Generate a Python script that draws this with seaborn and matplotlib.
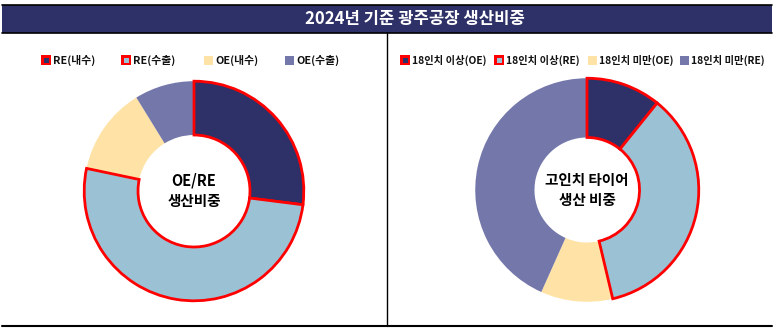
import matplotlib
matplotlib.use("Agg")
import matplotlib.pyplot as plt
import seaborn as sns
from matplotlib.patches import Rectangle
from matplotlib.lines import Line2D

sns.set_theme(style="white")
plt.rcParams['font.family'] = ['Noto Sans CJK KR', 'DejaVu Sans']

# ---- data ----
title = "2024년 기준 광주공장 생산비중"
left_labels = ["RE(내수)", "RE(수출)", "OE(내수)", "OE(수출)"]
left_values = [27.0, 51.3, 12.9, 8.8]
left_red = [True, True, False, False]
left_center = "OE/RE\n생산비중"

right_labels = ["18인치 이상(OE)", "18인치 이상(RE)", "18인치 미만(OE)", "18인치 미만(RE)"]
right_values = [10.8, 35.5, 10.4, 43.3]
right_red = [True, True, False, False]
right_center = "고인치 타이어\n생산 비중"

colors = ["#2E3068", "#9BC2D4", "#FFE3A6", "#7477AA"]
RED = "#FF0000"

W, H = 774, 332
fig = plt.figure(figsize=(W / 100, H / 100), dpi=100)
fig.patch.set_facecolor("white")


def fx(x):
    return x / W


def fy(y):
    return 1 - y / H


# title bar
fig.add_artist(Rectangle((fx(2), fy(33)), fx(770), (33 - 5) / H, transform=fig.transFigure,
                         facecolor="#2E3068", edgecolor="none"))
fig.add_artist(Line2D([fx(2), fx(772)], [fy(5), fy(5)], transform=fig.transFigure, color="black", lw=1.2))
fig.add_artist(Line2D([fx(2), fx(772)], [fy(33), fy(33)], transform=fig.transFigure, color="black", lw=1.2))
fig.text(fx(415), fy(19), title, color="white", fontsize=12, fontweight="bold",
         ha="center", va="center")
# bottom line and divider
fig.add_artist(Line2D([fx(2), fx(772)], [fy(326), fy(326)], transform=fig.transFigure, color="black", lw=1.5))
fig.add_artist(Line2D([fx(387), fx(387)], [fy(33), fy(326)], transform=fig.transFigure, color="black", lw=1.0))


def donut(box, values, red, width, center_text):
    x0, y0, x1, y1 = box
    ax = fig.add_axes([fx(x0), fy(y1), (x1 - x0) / W, (y1 - y0) / H])
    wedges, _ = ax.pie(values, colors=colors, startangle=90, counterclock=False,
                       radius=1.0, wedgeprops=dict(width=width, edgecolor="none", linewidth=0))
    for w, r in zip(wedges, red):
        if r:
            w.set_edgecolor(RED)
            w.set_linewidth(2.0)
            w.set_zorder(5)
    ax.set_xlim(-1.02, 1.02)
    ax.set_ylim(-1.02, 1.02)
    ax.set_aspect("equal")
    ax.axis("off")
    ax.text(0, 0, center_text, ha="center", va="center", fontsize=10.5, fontweight="bold",
            color="black", linespacing=1.35, zorder=10)
    return ax


donut((82, 79, 306, 303), left_values, left_red, 0.49, left_center)
donut((473, 76, 701, 304), right_values, right_red, 0.53, right_center)


def legend(labels, red, xs, y, size):
    for lab, r, c, x in zip(labels, red, colors, xs):
        if r:
            fig.add_artist(Rectangle((fx(x - 5), fy(y + 5)), 10 / W, 10 / H, transform=fig.transFigure,
                                     facecolor=RED, edgecolor="none"))
            fig.add_artist(Rectangle((fx(x - 2.5), fy(y + 2.5)), 5 / W, 5 / H, transform=fig.transFigure,
                                     facecolor=c, edgecolor="none"))
        else:
            fig.add_artist(Rectangle((fx(x - 4.5), fy(y + 4.5)), 9 / W, 9 / H, transform=fig.transFigure,
                                     facecolor=c, edgecolor="none"))
        fig.text(fx(x + 7), fy(y), lab, fontsize=size, fontweight="bold", ha="left", va="center",
                 color="#111111")


legend(left_labels, left_red, [46, 126, 208, 289], 60, 7.8)
legend(right_labels, right_red, [405, 499, 592, 684], 60, 7.4)

fig.savefig("out.png", dpi=100, facecolor="white")
